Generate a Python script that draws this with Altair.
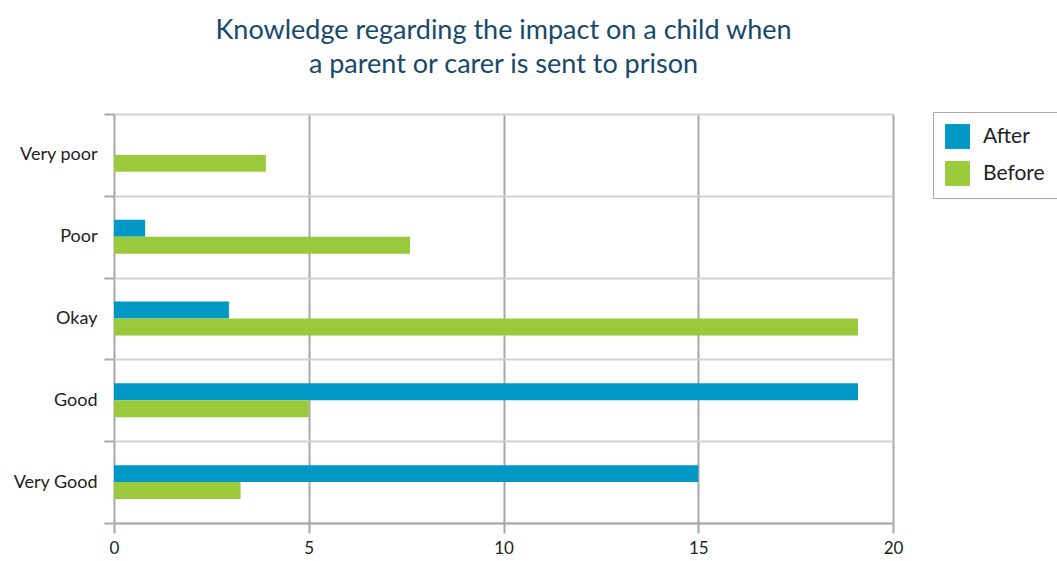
import altair as alt
import pandas as pd

categories = ["Very poor", "Poor", "Okay", "Good", "Very Good"]
series = ["After", "Before"]
after_values = [0, 0.8, 2.95, 19.1, 15.0]
before_values = [3.9, 7.6, 19.1, 5.0, 3.25]
x_ticks = [0, 5, 10, 15, 20]

rows = []
for c, a, b in zip(categories, after_values, before_values):
    rows.append({"category": c, "series": "After", "value": a})
    rows.append({"category": c, "series": "Before", "value": b})
df = pd.DataFrame(rows)

FONT = "Lato"
GRID_DARK = "#a8a8a8"

x_enc = alt.X("value:Q", title=None, scale=alt.Scale(domain=[0, 20], nice=False),
              axis=alt.Axis(values=x_ticks, grid=True, gridColor=GRID_DARK, gridWidth=2,
                            domainColor=GRID_DARK, domainWidth=2, tickColor=GRID_DARK, tickWidth=2,
                            tickSize=10, labelFontSize=17, labelColor="#222222", labelFont=FONT,
                            labelPadding=7, labelFlush=False))

color_enc = alt.Color("series:N", sort=series,
                      scale=alt.Scale(domain=series, range=["#0098c4", "#9aca3c"]),
                      legend=alt.Legend(title=None, orient="none", legendX=819, legendY=-2,
                                        symbolType="square", symbolSize=620, symbolStrokeWidth=0,
                                        labelFontSize=21, labelFont=FONT, labelColor="#222222",
                                        rowPadding=12, padding=12, strokeColor=GRID_DARK,
                                        symbolOpacity=1, labelOffset=13))

# Layer carrying the category axis and the band separators (bands with no padding)
axis_layer = alt.Chart(df).mark_bar(opacity=0).encode(
    y=alt.Y("category:N", sort=categories, title=None,
            scale=alt.Scale(paddingInner=0, paddingOuter=0),
            axis=alt.Axis(tickBand="extent", grid=True, gridColor="#d2d2d2", gridWidth=2,
                          domain=False, ticks=True, tickSize=10, tickColor=GRID_DARK, tickWidth=2,
                          labelFontSize=18, labelColor="#222222", labelFont=FONT, labelPadding=7)),
    x=x_enc,
)

# Visible bars
bars = alt.Chart(df).mark_bar().encode(
    y=alt.Y("category:N", sort=categories, title=None,
            scale=alt.Scale(paddingInner=0.585, paddingOuter=0.2925), axis=None),
    yOffset=alt.YOffset("series:N", sort=series,
                        scale=alt.Scale(paddingInner=0, paddingOuter=0)),
    x=x_enc,
    color=color_enc,
)

chart = alt.layer(axis_layer, bars).resolve_scale(y="independent").properties(
    width=779,
    height=409,
    title=alt.Title(["Knowledge regarding the impact on a child when",
                     "a parent or carer is sent to prison"],
                    fontSize=27, font=FONT, fontWeight="normal", color="#17496b",
                    anchor="middle", offset=26, lineHeight=34),
    padding={"left": 114, "top": 114, "right": 164, "bottom": 38},
    autosize=alt.AutoSizeParams(type="none"),
).configure_view(strokeWidth=0).configure(background="white")

chart.save("out.html", embed_options={"renderer": "svg", "actions": False})
